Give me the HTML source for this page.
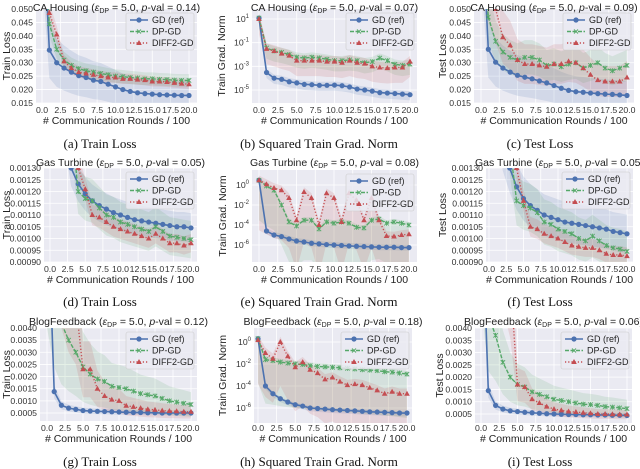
<!DOCTYPE html>
<html><head><meta charset="utf-8">
<style>
html,body{margin:0;padding:0;background:#fff;}
svg{display:block;font-family:"Liberation Sans",sans-serif;}
.cap{font-family:"Liberation Serif",serif;font-size:13px;fill:#111;}
</style></head>
<body>
<svg id="fig" width="640" height="469" viewBox="0 0 640 469" xmlns="http://www.w3.org/2000/svg"></svg>
<script>
// ---- data (x = communication rounds / 100) ----
const rounds = [0,1,2,3,4,5,6,7,8,9,10,11,12,13,14,15,16,17,18,19,20];
// (a) CA Housing train loss
const aGD   = [0.09,0.0347,0.030,0.028,0.0265,0.0252,0.0245,0.0235,0.023,0.022,0.021,0.020,0.0193,0.0188,0.0185,0.0183,0.0181,0.018,0.0179,0.0178,0.0178];
const aDP   = [0.09,0.0445,0.035,0.031,0.029,0.0278,0.027,0.0265,0.026,0.0255,0.025,0.0248,0.0245,0.0243,0.024,0.024,0.0238,0.0237,0.0235,0.0234,0.0234];
const aDIFF = [0.09,0.0485,0.0405,0.0305,0.028,0.0265,0.026,0.0255,0.025,0.0245,0.0245,0.024,0.024,0.0237,0.0235,0.023,0.023,0.0228,0.0225,0.0222,0.022];
// (b) CA Housing grad norm
const bGD   = [12,3e-4,1e-4,8e-5,5e-5,4e-5,3e-5,2.8e-5,2.5e-5,2.5e-5,2.6e-5,2.3e-5,1.8e-5,1.2e-5,1e-5,8e-6,6e-6,5.5e-6,5e-6,4.5e-6,4e-6];
const bDP   = [12,0.035,0.02,0.015,0.01,0.006,0.005,0.006,0.005,0.004,0.003,0.003,0.0035,0.003,0.002,0.0025,0.005,0.003,0.0015,0.0012,0.0015];
const bDIFF = [10,0.03,0.02,0.012,0.008,0.003,0.003,0.003,0.003,0.0025,0.0025,0.002,0.003,0.002,0.0017,0.001,0.0008,0.0007,0.0008,0.0008,0.0025];
// (c) CA Housing test loss
const cGD   = [0.09,0.035,0.0302,0.028,0.0265,0.0253,0.0246,0.024,0.0232,0.0225,0.0215,0.0205,0.0197,0.0192,0.019,0.0187,0.0185,0.0183,0.0182,0.018,0.0178];
const cDP   = [0.09,0.047,0.038,0.034,0.032,0.031,0.032,0.032,0.031,0.029,0.0295,0.0285,0.0295,0.030,0.028,0.029,0.030,0.028,0.027,0.028,0.029];
const cDIFF = [0.09,0.06,0.05,0.0395,0.0365,0.031,0.0295,0.0295,0.029,0.0285,0.0295,0.0295,0.0305,0.030,0.028,0.0255,0.0235,0.023,0.023,0.023,0.0245];
// (d) Gas Turbine train loss
const dGD   = [0.002,0.0018,0.0015,0.0013,0.001232,0.00119,0.00116,0.00114,0.001125,0.00111,0.0011,0.00109,0.00108,0.001075,0.00107,0.001065,0.00106,0.001055,0.00105,0.00105,0.001045];
const dDP   = [0.003,0.0025,0.002,0.0015,0.0012,0.00117,0.00116,0.00113,0.0011,0.00109,0.00107,0.00106,0.00105,0.00104,0.00103,0.00105,0.00103,0.00101,0.001005,0.001,0.000995];
const dDIFF = [0.004,0.003,0.0025,0.002,0.0013,0.00121,0.0011,0.00109,0.00107,0.00105,0.00104,0.00103,0.00102,0.00101,0.001,0.00102,0.001,0.00098,0.00098,0.00097,0.00098];
// (e) Gas Turbine grad norm
const eGD   = [3,2.5e-5,1e-5,7e-6,4e-6,2.5e-6,2e-6,1.5e-6,1.3e-6,1.1e-6,1e-6,9e-7,8e-7,7.5e-7,7e-7,6.5e-7,6e-7,6e-7,6e-7,5.5e-7,5.5e-7];
const eDP   = [3,0.8,0.3,0.01,2e-4,8e-5,3e-4,3e-4,4e-5,2e-4,1.5e-4,2e-4,1.5e-4,6e-5,5e-5,3e-4,4e-4,1.5e-4,2e-4,1.5e-4,1e-4];
const eDIFF = [3,1.2,0.5,0.3,0.05,3e-4,0.2,0.05,1e-4,0.15,0.05,2e-4,0.15,0.03,3e-4,0.05,3e-4,8e-6,7e-6,1e-5,1.2e-5];
// (f) Gas Turbine test loss
const fGD   = [0.0018,0.0016,0.0014,0.0013,0.00122,0.00117,0.00114,0.00112,0.0011,0.00109,0.00108,0.00107,0.001065,0.00106,0.001055,0.00105,0.001045,0.00104,0.00103,0.001025,0.00102];
const fDP   = [0.003,0.0025,0.002,0.0014,0.00116,0.00114,0.00113,0.00111,0.00107,0.00106,0.00104,0.00103,0.00102,0.001,0.00099,0.00101,0.00099,0.00097,0.00096,0.000955,0.000945];
const fDIFF = [0.004,0.003,0.0025,0.002,0.0013,0.00116,0.00105,0.00104,0.00102,0.00101,0.001,0.000985,0.00097,0.000965,0.00096,0.00096,0.00095,0.000935,0.00093,0.00093,0.000925];
// (g) BlogFeedback train loss
const gGD   = [0.01,0.00138,0.00082,0.0007,0.00065,0.0006,0.00058,0.00057,0.00056,0.00055,0.00054,0.00053,0.00052,0.00052,0.00051,0.00051,0.0005,0.0005,0.0005,0.0005,0.0005];
const gDP   = [0.01,0.006,0.0042,0.0035,0.003,0.0024,0.0021,0.0019,0.0018,0.0016,0.00155,0.0015,0.0014,0.0013,0.00125,0.0012,0.0011,0.001,0.00095,0.0009,0.00085];
const gDIFF = [0.01,0.01,0.008,0.006,0.005,0.0023,0.0023,0.0015,0.0012,0.00105,0.001,0.0008,0.00075,0.0007,0.00065,0.00063,0.0006,0.00058,0.00057,0.00055,0.00055];
// (h) BlogFeedback grad norm
const hGD   = [2,1e-4,2e-5,7e-6,3.5e-6,2e-6,1.5e-6,1e-6,9e-7,8e-7,7e-7,6.5e-7,6e-7,5.5e-7,5e-7,4.5e-7,4.3e-7,4e-7,3.8e-7,3.5e-7,3.5e-7];
const hDP   = [2,0.025,0.02,0.015,0.012,0.01,0.009,0.007,0.006,0.0055,0.005,0.0045,0.004,0.0035,0.003,0.0028,0.0025,0.002,0.0018,0.0015,0.0012];
const hDIFF = [1.5,0.1,0.03,1,0.05,0.005,0.015,0.003,0.0015,4e-4,6e-4,2.5e-4,1.2e-4,1.5e-4,1.2e-4,7e-5,4e-5,2e-5,3e-5,2e-5,2e-5];
// (i) BlogFeedback test loss
const iGD   = [0.01,0.00145,0.00085,0.0007,0.00063,0.0006,0.00057,0.00055,0.00053,0.00051,0.0005,0.00049,0.00048,0.00048,0.00047,0.00047,0.00046,0.00046,0.00045,0.00045,0.00044];
const iDP   = [0.01,0.0045,0.0037,0.0026,0.002,0.0017,0.0016,0.0014,0.0013,0.0012,0.0011,0.00105,0.001,0.00095,0.0009,0.00088,0.00085,0.0008,0.00078,0.00075,0.00072];
const iDIFF = [0.01,0.01,0.01,0.008,0.006,0.0017,0.0016,0.0011,0.00095,0.0008,0.0007,0.00065,0.0006,0.00058,0.00055,0.00053,0.0005,0.0005,0.00049,0.00048,0.00048];
const xTickLabels = ["0.0","2.5","5.0","7.5","10.0","12.5","15.0","17.5","20.0"];
const xTickValues = [0,2.5,5,7.5,10,12.5,15,17.5,20];
const seriesNames = ["GD (ref)","DP-GD","DIFF2-GD"];

const NS="http://www.w3.org/2000/svg";
const svg=document.getElementById('fig');
const COL=["#4c72b0","#55a868","#c44e52"];
function mk(tag,attrs,parent){const e=document.createElementNS(NS,tag);for(const k in attrs)e.setAttribute(k,attrs[k]);(parent||svg).appendChild(e);return e;}

const panels=[
 {id:'a',ds:'CA Housing',p:'0.14',yl:'Train Loss',cap:'(a) Train Loss',L:36,T:9,R:197,B:103,x0:42,x20:189,log:false,v1:0.05,p1:9,v2:0.015,p2:103,ticks:[0.015,0.02,0.025,0.03,0.035,0.04,0.045,0.05],dec:3,ylx:7,capx:100,row:0,data:[aGD,aDP,aDIFF],band:[0.3,0.1,0.08]},
 {id:'b',ds:'CA Housing',p:'0.07',yl:'Train Grad. Norm',cap:'(b) Squared Train Grad. Norm',L:252,T:9,R:417,B:103,x0:259,x20:410,log:true,v1:1,p1:19,v2:-5,p2:90,ticks:[1,-1,-3,-5],ylx:222,capx:319,row:0,data:[bGD,bDP,bDIFF],band:[3,8,20],up:[2,2.5,3]},
 {id:'c',ds:'CA Housing',p:'0.09',yl:'Test Loss',cap:'(c) Test Loss',L:474,T:9,R:634,B:103,x0:481,x20:627,log:false,v1:0.05,p1:9,v2:0.015,p2:103,ticks:[0.015,0.02,0.025,0.03,0.035,0.04,0.045,0.05],dec:3,ylx:443,capx:540,row:0,data:[cGD,cDP,cDIFF],band:[0.3,0.2,0.25]},
 {id:'d',ds:'Gas Turbine',p:'0.05',yl:'Train Loss',cap:'(d) Train Loss',L:44,T:168,R:197,B:262,x0:50,x20:191,log:false,v1:0.0013,p1:168,v2:0.0009,p2:262,ticks:[0.0009,0.00095,0.001,0.00105,0.0011,0.00115,0.0012,0.00125,0.0013],dec:5,ylx:7,capx:100,row:1,data:[dGD,dDP,dDIFF],band:[0.06,0.08,0.04]},
 {id:'e',ds:'Gas Turbine',p:'0.08',yl:'Train Grad. Norm',cap:'(e) Squared Train Grad. Norm',L:252,T:170,R:417,B:262,x0:259,x20:409,log:true,v1:0,p1:185,v2:-6,p2:245,ticks:[0,-2,-4,-6],ylx:223,capx:319,row:1,data:[eGD,eDP,eDIFF],band:[2,1e4,1e5],up:[2,2,3]},
 {id:'f',ds:'Gas Turbine',p:'0.05',yl:'Test Loss',cap:'(f) Test Loss',L:486,T:168,R:633,B:262,x0:489,x20:627,log:false,v1:0.0013,p1:168,v2:0.0009,p2:262,ticks:[0.0009,0.00095,0.001,0.00105,0.0011,0.00115,0.0012,0.00125,0.0013],dec:5,ylx:443,capx:540,row:1,data:[fGD,fDP,fDIFF],band:[0.08,0.09,0.04]},
 {id:'g',ds:'BlogFeedback',p:'0.12',yl:'Train Loss',cap:'(g) Train Loss',L:40,T:328,R:197,B:421,x0:47,x20:191,log:false,v1:0.004,p1:328,v2:0.0005,p2:413,ticks:[0.0005,0.001,0.0015,0.002,0.0025,0.003,0.0035,0.004],dec:4,ylx:7,capx:100,row:2,data:[gGD,gDP,gDIFF],band:[0.2,0.6,0.5]},
 {id:'h',ds:'BlogFeedback',p:'0.18',yl:'Train Grad. Norm',cap:'(h) Squared Train Grad. Norm',L:254,T:328,R:412,B:423,x0:258,x20:407,log:true,v1:0,p1:342,v2:-6,p2:408,ticks:[0,-2,-4,-6],ylx:223,capx:319,row:2,data:[hGD,hDP,hDIFF],band:[2,1e4,1e4],up:[1.5,2,3]},
 {id:'i',ds:'BlogFeedback',p:'0.06',yl:'Test Loss',cap:'(i) Test Loss',L:475,T:328,R:632,B:423,x0:481,x20:627,log:false,v1:0.004,p1:328,v2:0.0005,p2:414,ticks:[0.0005,0.001,0.0015,0.002,0.0025,0.003,0.0035,0.004],dec:4,ylx:440,capx:540,row:2,data:[iGD,iDP,iDIFF],band:[0.2,0.5,0.4]}
];
const rowY=[{title:11,xt:113,xl:124,cap:148},{title:166,xt:272,xl:283,cap:306},{title:325,xt:431,xl:442,cap:466}];

panels.forEach(P=>{
  const g=mk('g',{});
  
  
  const X=v=>P.x0+(P.x20-P.x0)*v/20;
  const Y=v=>{const t=P.log?Math.log10(Math.max(v,1e-30)):v;return P.p1+(P.p2-P.p1)*(t-P.v1)/(P.v2-P.v1);};
  const bg=mk('rect',{x:P.L,y:P.T,width:P.R-P.L,height:P.B-P.T,fill:'#eaeaf2'},g);
  
  
  const cid='clip'+P.id;
  const cp=mk('clipPath',{id:cid},g);mk('rect',{x:P.L,y:P.T,width:P.R-P.L,height:P.B-P.T},cp);
  const ry=rowY[P.row];
  xTickValues.forEach((v,k)=>{
    const x=X(v);
    mk('line',{x1:x,x2:x,y1:P.T,y2:P.B,stroke:'#fff','stroke-width':0.8},g);
    const t=mk('text',{x:x,y:ry.xt,'font-size':'8.7','text-anchor':'middle',fill:'#333'},g);
    
    
    t.textContent=xTickLabels[k];
  });
  P.ticks.forEach(v=>{
    const y=P.log?Y(Math.pow(10,v)):Y(v);
    mk('line',{x1:P.L,x2:P.R,y1:y,y2:y,stroke:'#fff','stroke-width':0.8},g);
    const t=mk('text',{x:P.L-3,y:y+3,'font-size':'8.7','text-anchor':'end',fill:'#333'},g);
    
    
    if(P.log){t.textContent='10';const s=mk('tspan',{dy:-4,'font-size':'6'},t);s.textContent=String(v);}
    else t.textContent=v.toFixed(P.dec);
  });
  const cg=mk('g',{'clip-path':'url(#'+cid+')'},g);
  P.data.forEach((arr,si)=>{
    const s=P.band[si];let up=[],lo=[];
    rounds.forEach((r,k)=>{const v=arr[k];
      let a,b; if(P.log){a=v*P.up[si];b=v/s;} else {a=v*(1+s);b=v*(1-s);}
      up.push(X(r)+','+Y(a));lo.unshift(X(r)+','+Y(b));});
    const pb=mk('polygon',{points:up.concat(lo).join(' '),fill:COL[si],'fill-opacity':0.15},cg);
    
    
  });
  P.data.forEach((arr,si)=>{
    const pts=rounds.map((r,k)=>X(r)+','+Y(arr[k])).join(' ');
    const dash=si===1?'4,1.5':(si===2?'1.2,2':'none');
    const ln=mk('polyline',{points:pts,fill:'none',stroke:COL[si],'stroke-width':si===0?1.6:1.4,'stroke-dasharray':dash},cg);
    
    
    rounds.forEach((r,k)=>{
      const x=X(r),y=Y(arr[k]);
      let m;
      if(si===0)m=mk('circle',{cx:x,cy:y,r:2.6,fill:COL[0]},cg);
      else if(si===1)m=mk('path',{d:`M${x-2.2},${y-2.2}L${x+2.2},${y+2.2}M${x-2.2},${y+2.2}L${x+2.2},${y-2.2}M${x},${y-2.5}V${y+2.5}`,stroke:COL[1],'stroke-width':0.9,fill:'none'},cg);
      else m=mk('polygon',{points:`${x},${y-3} ${x-2.8},${y+2} ${x+2.8},${y+2}`,fill:COL[2]},cg);
      
      
    });
  });
  const tt=mk('text',{x:(P.L+P.R)/2,y:ry.title,'font-size':'10.5','text-anchor':'middle',fill:'#222'},g);
  
  
  tt.appendChild(document.createTextNode(P.ds+' ('));
  let s1=mk('tspan',{'font-style':'italic'},tt);s1.textContent='ε';
  let s2=mk('tspan',{'font-size':'7',dy:2},tt);s2.textContent='DP';
  let s3=mk('tspan',{dy:-2},tt);s3.textContent=' = 5.0, ';
  let s4=mk('tspan',{'font-style':'italic'},tt);s4.textContent='p';
  tt.appendChild(document.createTextNode('-val = '+P.p+')'));
  const xl=mk('text',{x:(P.L+P.R)/2,y:ry.xl,'font-size':'10.5','text-anchor':'middle',fill:'#222'},g);
  
  
  xl.textContent='# Communication Rounds / 100';
  const yl=mk('text',{x:0,y:0,'font-size':'10.5','text-anchor':'middle',fill:'#222',transform:`translate(${P.ylx+3},${(P.T+P.B)/2}) rotate(-90)`},g);
  
  
  yl.textContent=P.yl;
  const cp2=mk('text',{x:P.capx,y:ry.cap,'class':'cap','text-anchor':'middle'},g);
  
  
  cp2.textContent=P.cap;
  const lx=P.R-71,ly=P.T+4;
  const lg=mk('g',{},g);
  
  
  mk('rect',{x:lx,y:ly,width:68,height:37,rx:2,fill:'#eaeaf2','fill-opacity':0.85,stroke:'#ccc','stroke-width':0.6},lg);
  seriesNames.forEach((n,si)=>{
    const yy=ly+7+si*11.5;
    const dash=si===1?'4,1.5':(si===2?'1.2,2':'none');
    mk('line',{x1:lx+4,x2:lx+22,y1:yy,y2:yy,stroke:COL[si],'stroke-width':1.5,'stroke-dasharray':dash},lg);
    const cx=lx+13;
    if(si===0)mk('circle',{cx:cx,cy:yy,r:2.6,fill:COL[0]},lg);
    else if(si===1)mk('path',{d:`M${cx-2},${yy-2}L${cx+2},${yy+2}M${cx-2},${yy+2}L${cx+2},${yy-2}`,stroke:COL[1],'stroke-width':0.9},lg);
    else mk('polygon',{points:`${cx},${yy-3} ${cx-2.8},${yy+2} ${cx+2.8},${yy+2}`,fill:COL[2]},lg);
    const lt=mk('text',{x:lx+26,y:yy+3,'font-size':'9',fill:'#222'},lg);
    
    
    lt.textContent=n;
  });
});
</script>
</body></html>
